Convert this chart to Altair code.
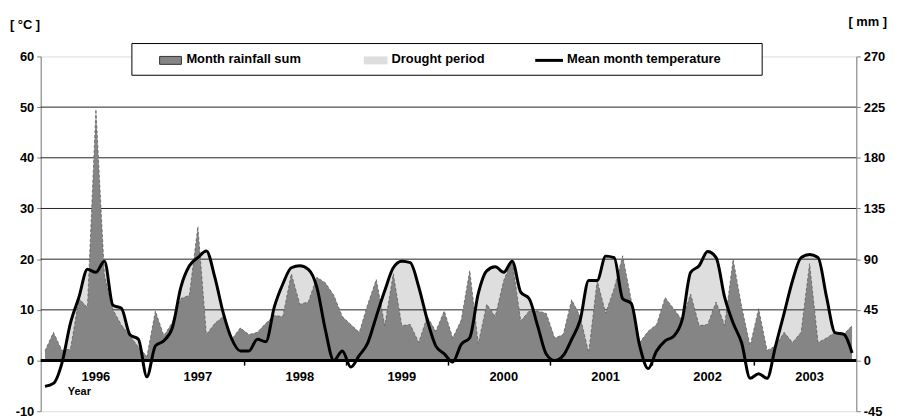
import altair as alt
import pandas as pd
import numpy as np

years = ["1996", "1997", "1998", "1999", "2000", "2001", "2002", "2003"]

# Mean month temperature [°C], Jan..Dec for each year
temp_1996 = [-5.1, -4.5, -0.5, 7.4, 12.5, 18.0, 17.4, 19.6, 10.9, 10.3, 5.1, 4.2]
temp_1997 = [-3.2, 2.9, 3.9, 6.5, 14.5, 18.7, 20.3, 21.6, 16.4, 9.3, 4.2, 1.9]
temp_1998 = [1.9, 4.2, 3.7, 10.6, 15.1, 18.3, 18.7, 18.0, 14.5, 6.1, 0.0, 1.9]
temp_1999 = [-1.3, 1.0, 3.5, 8.7, 13.8, 18.3, 19.6, 19.3, 14.5, 8.0, 2.9, 1.3]
temp_2000 = [-0.3, 3.2, 4.5, 13.2, 17.7, 18.5, 17.4, 19.6, 13.5, 12.2, 6.8, 1.3]
temp_2001 = [0.0, 1.0, 4.2, 8.0, 15.8, 15.8, 20.6, 20.3, 12.2, 11.3, 2.9, -1.6]
temp_2002 = [1.9, 3.9, 4.8, 8.0, 17.4, 18.7, 21.5, 20.3, 12.5, 7.4, 3.5, -3.5]
temp_2003 = [-2.6, -3.5, 2.9, 9.3, 15.8, 20.3, 20.9, 20.3, 12.5, 5.5, 5.2, 1.5]

# Month rainfall sum [mm], Jan..Dec for each year
rain_1996 = [8.5, 25, 9, 10, 55, 47, 223, 76, 45, 31.5, 22, 12]
rain_1997 = [3.5, 44, 22, 34, 55, 58, 119, 23, 33, 39, 19, 29]
rain_1998 = [23, 25, 33, 40, 39, 77, 50, 52, 74, 69, 58, 39]
rain_1999 = [32, 25, 50, 72, 31, 77, 31, 32, 16, 39, 26, 44]
rain_2000 = [20, 36, 80, 15, 50, 39, 71, 89, 35, 44, 44, 42]
rain_2001 = [20, 23, 54, 39, 7, 71, 42, 64, 93, 54, 16, 26]
rain_2002 = [32, 56, 46, 36, 59, 31, 32, 52, 31, 90, 48, 13]
rain_2003 = [46, 9, 13, 25, 16, 25, 86, 16, 20, 25, 23, 31]

temp_ticks = [-10, 0, 10, 20, 30, 40, 50, 60]
rain_ticks = [-45, 0, 45, 90, 135, 180, 225, 270]
grid_values = [10, 20, 30, 40, 50]
legend_labels = ["Month rainfall sum", "Drought period", "Mean month temperature"]

temps = temp_1996 + temp_1997 + temp_1998 + temp_1999 + temp_2000 + temp_2001 + temp_2002 + temp_2003
rain = rain_1996 + rain_1997 + rain_1998 + rain_1999 + rain_2000 + rain_2001 + rain_2002 + rain_2003
n = len(temps)

df = pd.DataFrame({"m": np.arange(n) + 0.5, "temp": temps, "rain": rain})
df["drought"] = df["temp"].clip(lower=0)

FONT = "Liberation Sans"
DARK = "#858585"
LIGHT = "#dedede"
H = 358
Y0 = H * 60 / 70  # pixel row of 0 °C inside the plot

xs = alt.Scale(domain=[0, n], nice=False, zero=False)
ys_t = alt.Scale(domain=[-10, 60], nice=False, zero=False)
ys_r = alt.Scale(domain=[-45, 270], nice=False, zero=False)

axis_style = dict(grid=False, title=None,
                  domainColor="#808080", tickColor="#808080", tickSize=4,
                  labelFont=FONT, labelFontWeight="bold", labelFontSize=13,
                  labelColor="black", labelPadding=3,
                  labelExpr="'' + datum.value")

base = alt.Chart(df)

drought = base.mark_area(color=LIGHT, interpolate="monotone").encode(
    x=alt.X("m:Q", scale=xs, axis=None),
    y=alt.Y("drought:Q", scale=ys_t,
            axis=alt.Axis(orient="left", values=temp_ticks, **axis_style)),
    y2=alt.datum(0),
)

grid = alt.Chart(pd.DataFrame({"g": grid_values})).mark_rule(
    color="#222222", strokeWidth=1).encode(
    y=alt.Y("g:Q", scale=ys_t, axis=None))

rain_area = base.mark_area(color=DARK).encode(
    x=alt.X("m:Q", scale=xs, axis=None),
    y=alt.Y("rain:Q", scale=ys_r,
            axis=alt.Axis(orient="right", values=rain_ticks, **axis_style)),
    y2=alt.datum(0),
)

rain_edge = base.mark_line(color="#555555", strokeWidth=0.7, strokeDash=[3, 2]).encode(
    x=alt.X("m:Q", scale=xs, axis=None),
    y=alt.Y("rain:Q", scale=ys_r, axis=None),
)

temp_line = base.mark_line(color="black", strokeWidth=3, interpolate="monotone").encode(
    x=alt.X("m:Q", scale=xs, axis=None),
    y=alt.Y("temp:Q", scale=ys_t, axis=None),
)

zero_line = alt.Chart(pd.DataFrame({"x0": [0], "x1": [n], "y": [0]})).mark_rule(
    color="black", strokeWidth=3).encode(
    x=alt.X("x0:Q", scale=xs, axis=None), x2="x1:Q",
    y=alt.Y("y:Q", scale=ys_t, axis=None))

tick_df = pd.DataFrame({"b": [12 * k for k in range(1, len(years))], "y0": 0, "y1": -1})
year_ticks = alt.Chart(tick_df).mark_rule(color="black", strokeWidth=1.5).encode(
    x=alt.X("b:Q", scale=xs, axis=None),
    y=alt.Y("y0:Q", scale=ys_t, axis=None), y2="y1:Q")

# year labels sit on the July category of each year
year_df = pd.DataFrame({"pos": [12 * i + 6.5 for i in range(len(years))], "year": years})
year_labels = alt.Chart(year_df).mark_text(
    font=FONT, fontWeight="bold", fontSize=13, color="black", baseline="middle").encode(
    x=alt.X("pos:Q", scale=xs, axis=None), y=alt.value(Y0 + 17), text="year:N")

one = alt.Chart(pd.DataFrame({"a": [0]}))
year_title = one.mark_text(text="Year", font=FONT, fontWeight="bold", fontSize=11,
                           align="center", baseline="middle").encode(
    x=alt.value(39), y=alt.value(Y0 + 32))

left_title = one.mark_text(text="[ °C ]", font=FONT, fontWeight="bold", fontSize=13,
                           align="left", baseline="middle").encode(
    x=alt.value(-31), y=alt.value(-32))
right_title = one.mark_text(text="[ mm ]", font=FONT, fontWeight="bold", fontSize=13,
                            align="right", baseline="middle").encode(
    x=alt.value(854), y=alt.value(-35))

legend_box = one.mark_rect(fill="white", stroke="black", strokeWidth=1).encode(
    x=alt.value(92), x2=alt.value(728), y=alt.value(-13), y2=alt.value(19))
sw1 = one.mark_rect(fill=DARK, stroke="#333333", strokeWidth=1).encode(
    x=alt.value(120), x2=alt.value(142), y=alt.value(0), y2=alt.value(8))
sw2 = one.mark_rect(fill=LIGHT).encode(
    x=alt.value(326), x2=alt.value(350), y=alt.value(0), y2=alt.value(8))
sw3 = one.mark_rule(color="black", strokeWidth=3).encode(
    x=alt.value(499), x2=alt.value(527), y=alt.value(4))
lab1 = one.mark_text(text=legend_labels[0], font=FONT, fontWeight="bold", fontSize=13,
                     align="left", baseline="middle").encode(x=alt.value(147), y=alt.value(3))
lab2 = one.mark_text(text=legend_labels[1], font=FONT, fontWeight="bold", fontSize=13,
                     align="left", baseline="middle").encode(x=alt.value(354), y=alt.value(3))
lab3 = one.mark_text(text=legend_labels[2], font=FONT, fontWeight="bold", fontSize=13,
                     align="left", baseline="middle").encode(x=alt.value(531), y=alt.value(3))

chart = alt.layer(
    drought, grid, rain_area, rain_edge, temp_line, zero_line, year_ticks,
    year_labels, year_title, left_title, right_title,
    legend_box, sw1, sw2, sw3, lab1, lab2, lab3,
).resolve_scale(y="independent").properties(
    width=823, height=H,
    autosize=alt.AutoSizeParams(type="none"),
    padding={"left": 33, "top": 47, "right": 34, "bottom": 7},
).configure_view(stroke=None).configure(background="white")

chart.save("out.html", embed_options={"renderer": "svg", "actions": False})
